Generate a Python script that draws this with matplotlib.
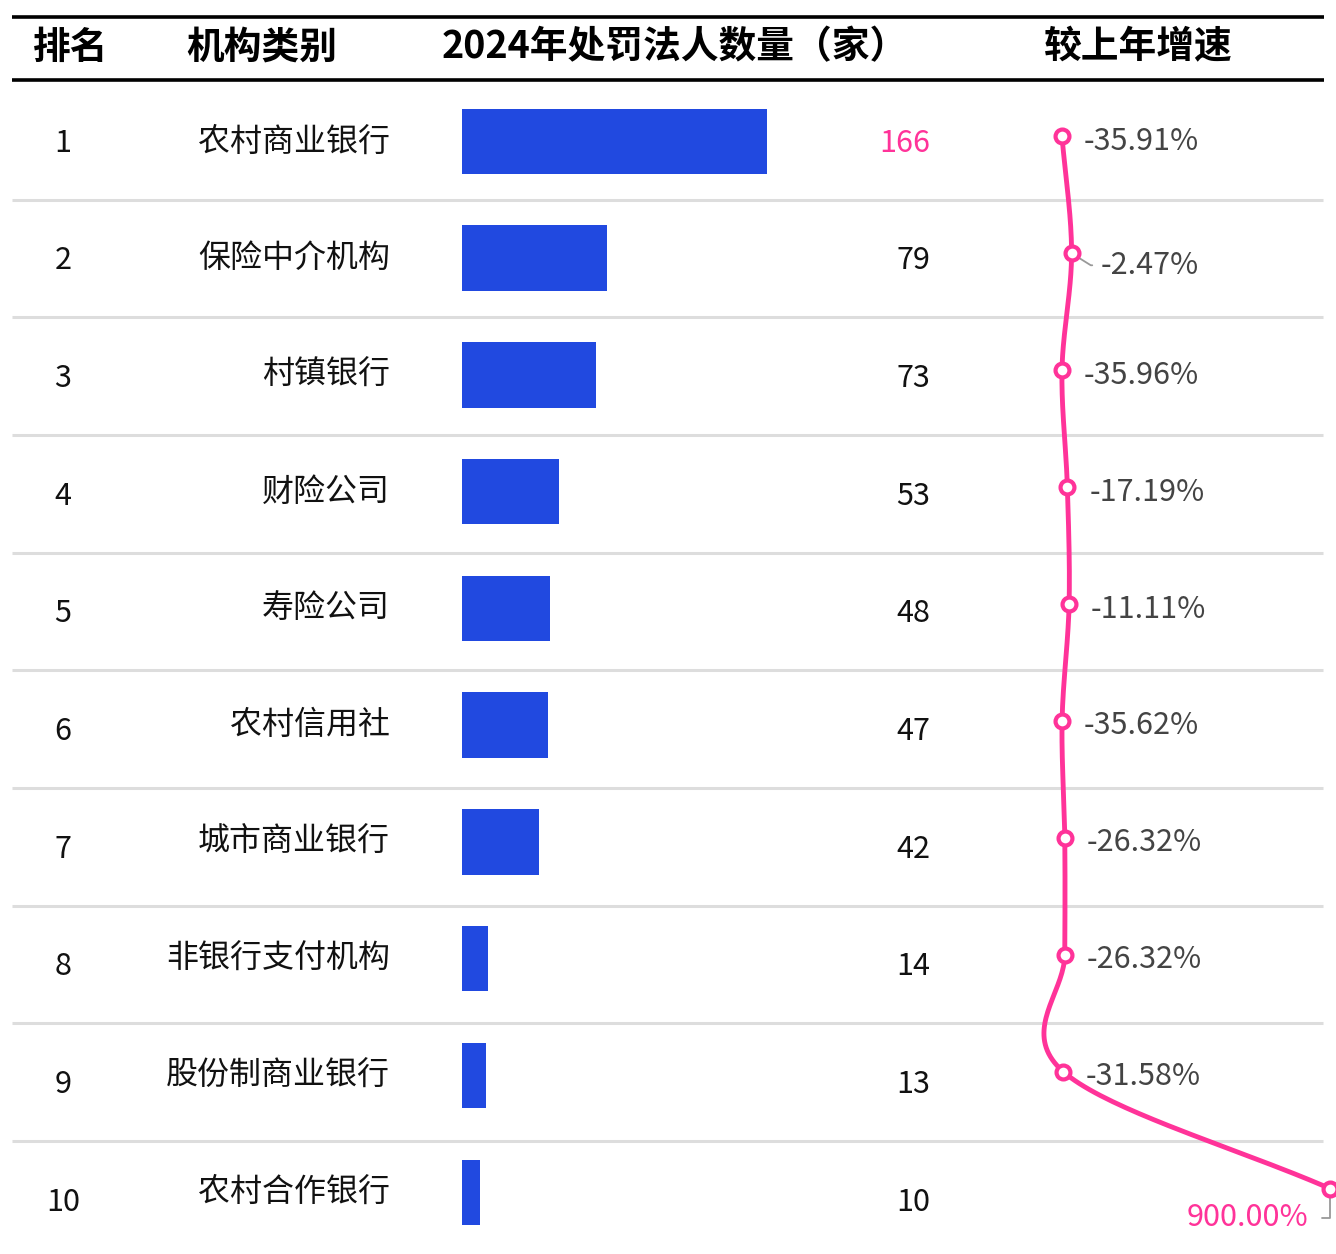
import numpy as np
import matplotlib.pyplot as plt
from matplotlib.transforms import blended_transform_factory

plt.rcParams['font.family'] = ['Noto Sans CJK SC', 'DejaVu Sans']

# 数据
ranks = list(range(1, 11))
categories = ['农村商业银行', '保险中介机构', '村镇银行', '财险公司', '寿险公司',
              '农村信用社', '城市商业银行', '非银行支付机构', '股份制商业银行', '农村合作银行']
counts = [166, 79, 73, 53, 48, 47, 42, 14, 13, 10]
growth = [-35.91, -2.47, -35.96, -17.19, -11.11, -35.62, -26.32, -26.32, -31.58, 900.00]
headers = ['排名', '机构类别', '2024年处罚法人数量（家）', '较上年增速']

W, H = 1336, 1254
BLUE = '#2149e0'
PINK = '#ff3399'
row_top, row_h = 82, 117.67
n = len(ranks)
row_bottom = row_top + n * row_h


def px_rect(x0, y0, x1, y1):
    return [x0 / W, 1 - y1 / H, (x1 - x0) / W, (y1 - y0) / H]


def catmull_rom(x, y, steps=40):
    # 平滑曲线 (Catmull-Rom / Hermite)
    p = np.column_stack([x, y]).astype(float)
    m = np.zeros_like(p)
    m[1:-1] = (p[2:] - p[:-2]) / 2
    m[0] = p[1] - p[0]
    m[-1] = p[-1] - p[-2]
    t = np.linspace(0, 1, steps)[:, None]
    h00 = 2 * t**3 - 3 * t**2 + 1
    h10 = t**3 - 2 * t**2 + t
    h01 = -2 * t**3 + 3 * t**2
    h11 = t**3 - t**2
    segs = []
    for i in range(len(p) - 1):
        seg = h00 * p[i] + h10 * m[i] + h01 * p[i + 1] + h11 * m[i + 1]
        segs.append(seg if i == 0 else seg[1:])
    return np.vstack(segs)


fig = plt.figure(figsize=(W / 100, H / 100), dpi=100)

# 表头
top = fig.add_axes([0, 0, 1, 1])
top.set_xlim(0, W)
top.set_ylim(H, 0)
top.axis('off')
top.hlines([17, 80], 12, 1324, color='black', lw=2.6)
for hx, txt in zip([71, 262, 675, 1138], headers):
    top.text(hx, 47, txt, ha='center', va='center', fontsize=27.2,
             fontweight='heavy', color='black')

# 排名 / 数值
ax = fig.add_axes(px_rect(0, row_top, W, row_bottom))
ax.set_xlim(0, W)
ax.set_ylim(n + 0.5, 0.5)
ax.axis('off')
ax.hlines(np.arange(1.5, n), 12, 1323, color='#dddddd', lw=2.2)
for r, c in zip(ranks, counts):
    ax.text(63, r + 0.02, str(r), ha='center', va='center', fontsize=22, color='#111111')
    ax.text(930, r + 0.02, str(c), ha='right', va='center', fontsize=22,
            color=PINK if r == 1 else '#111111')

# 条形
bx = fig.add_axes(px_rect(462, row_top, 932, row_bottom))
bx.set_xlim(0, 166 * 470 / 305)
bx.set_ylim(10.569, 0.492)
bx.axis('off')
bx.barh(ranks, counts, height=0.56, color=BLUE)

# 类别
cat_tr = blended_transform_factory(ax.transData, bx.transData)
for r, cat in zip(ranks, categories):
    ax.text(390, r, cat, ha='right', va='center', fontsize=23,
            color='#111111', transform=cat_tr)

# 增速曲线
gx = fig.add_axes(px_rect(1000, row_top, W, row_bottom))
gx.set_xlim(-252.5, 921.2)
gx.set_ylim(10.60, 0.535)
gx.axis('off')
curve = catmull_rom(growth, ranks)
gx.plot(curve[:, 0], curve[:, 1], color=PINK, lw=3.5, clip_on=False, zorder=3)
gx.plot(growth, ranks, 'o', ms=10, mfc='white', mec=PINK, mew=3,
        clip_on=False, zorder=4)

for r, g in zip(ranks, growth):
    label = f'{g:.2f}%'
    if r == 2:
        gx.annotate(label, (g, r), xytext=(29, -12), textcoords='offset pixels',
                    ha='left', va='center', fontsize=22, color='#444444',
                    arrowprops=dict(arrowstyle='-', color='#999999', lw=1.3,
                                    relpos=(0, 0.5), shrinkA=4, shrinkB=0,
                                    connectionstyle='angle,angleA=0,angleB=-32,rad=0'))
    elif r == n:
        gx.annotate(label, (g, r), xytext=(-22, -29), textcoords='offset pixels',
                    ha='right', va='center', fontsize=22, color=PINK,
                    annotation_clip=False,
                    arrowprops=dict(arrowstyle='-', color='#999999', lw=1.3,
                                    relpos=(1, 0.5), shrinkA=8, shrinkB=0,
                                    connectionstyle='angle,angleA=0,angleB=90,rad=0'))
    else:
        gx.annotate(label, (g, r), xytext=(22, -5), textcoords='offset pixels',
                    ha='left', va='center', fontsize=22, color='#444444')

fig.savefig('out.png', dpi=100)
